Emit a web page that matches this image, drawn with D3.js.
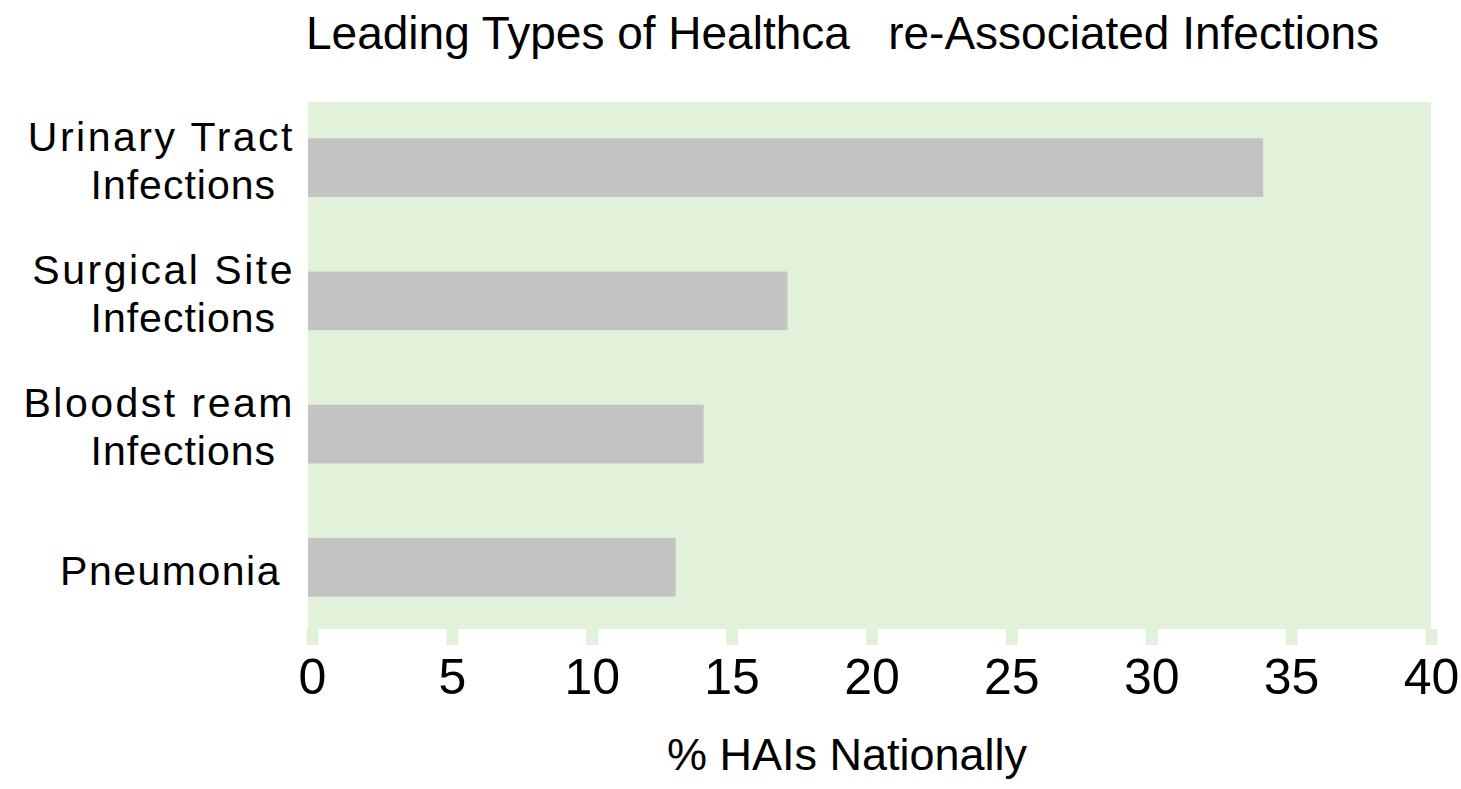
<!DOCTYPE html>
<html>
<head>
<meta charset="utf-8">
<script src="https://cdn.jsdelivr.net/npm/d3@7"></script>
<style>
  body { margin: 0; background: #fff; }
  text { font-family: 'Liberation Sans', Arial, sans-serif; fill: #000; }
</style>
</head>
<body>
<div id="chart"></div>
<script>
// data
const categories = ['Urinary Tract\nInfections', 'Surgical Site\nInfections', 'Bloodst ream\nInfections', 'Pneumonia']
const values = [34, 17, 14, 13]
const xTicks = [0, 5, 10, 15, 20, 25, 30, 35, 40]
const title = 'Leading Types of Healthca   re-Associated Infections'
const xTitle = '% HAIs Nationally'

const W = 1461
const H = 789
const plot = { left: 308, right: 1431, top: 102, bottom: 629 }
const bgColor = '#e2f2da'
const barColor = '#c3c3c3'

const svg = d3
  .select('#chart')
  .append('svg')
  .attr('width', W)
  .attr('height', H)

const x = d3.scaleLinear().domain([0, 40]).range([312, 1431])
const y = d3
  .scaleBand()
  .domain(categories)
  .range([101, 634])
  .paddingInner(0.56)
  .paddingOuter(0.28)

// plot background
svg
  .append('rect')
  .attr('x', plot.left)
  .attr('y', plot.top)
  .attr('width', plot.right - plot.left)
  .attr('height', plot.bottom - plot.top)
  .attr('fill', bgColor)

// bars
svg
  .append('g')
  .selectAll('rect')
  .data(categories)
  .enter()
  .append('rect')
  .attr('x', plot.left)
  .attr('y', d => y(d))
  .attr('width', (d, i) => x(values[i]) - plot.left)
  .attr('height', y.bandwidth())
  .attr('fill', barColor)

// x axis: chunky green tick marks, big labels
const xAxis = d3
  .axisBottom(x)
  .tickValues(xTicks)
  .tickSize(16)
  .tickPadding(13)

const gx = svg
  .append('g')
  .attr('class', 'axis x-axis')
  .attr('transform', 'translate(0,' + plot.bottom + ')')
  .call(xAxis)

gx.select('.domain').remove()
gx.selectAll('.tick line')
  .attr('stroke', bgColor)
  .attr('stroke-width', 12)
gx.selectAll('.tick text')
  .attr('font-size', 50)
  .attr('font-family', "'Liberation Sans', Arial, sans-serif")
  .attr('fill', '#000')

// y labels, one or two lines, right aligned
const labels = svg.append('g').attr('class', 'y-labels')
categories.forEach(function(c) {
  const lines = c.split('\n')
  const mid = y(c) + y.bandwidth() / 2
  if (lines.length === 2) {
    labels.append('text')
      .attr('x', 295)
      .attr('y', mid - 17)
      .attr('text-anchor', 'end')
      .attr('font-size', 41)
      .attr('letter-spacing', 2.5)
      .text(lines[0])
    labels.append('text')
      .attr('x', 276)
      .attr('y', mid + 31)
      .attr('text-anchor', 'end')
      .attr('font-size', 41)
      .attr('letter-spacing', 1)
      .text(lines[1])
  } else {
    labels.append('text')
      .attr('x', 281)
      .attr('y', mid + 18)
      .attr('text-anchor', 'end')
      .attr('font-size', 41)
      .attr('letter-spacing', 1.5)
      .text(lines[0])
  }
})

// titles
svg
  .append('text')
  .attr('x', 306)
  .attr('y', 49)
  .attr('font-size', 46)
  .style('white-space', 'pre')
  .text(title)

svg
  .append('text')
  .attr('x', 847)
  .attr('y', 770)
  .attr('text-anchor', 'middle')
  .attr('font-size', 45)
  .text(xTitle)
</script>
</body>
</html>
